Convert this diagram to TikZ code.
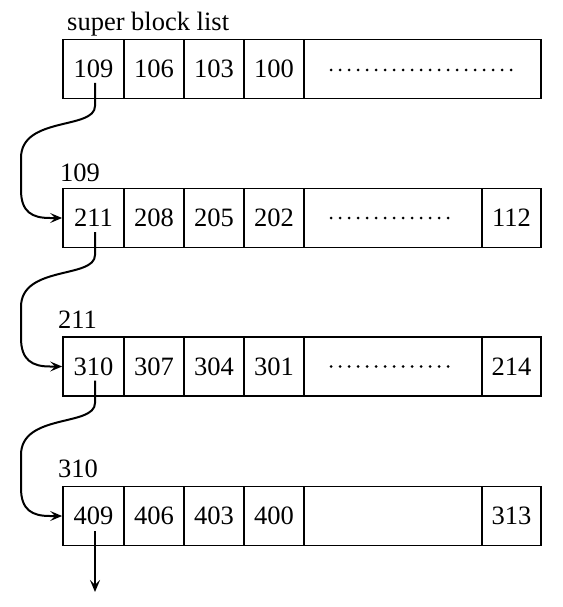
\documentclass[tikz,border=0pt]{standalone}
\usepackage{fontspec}
\setmainfont{Liberation Serif}
\usetikzlibrary{arrows.meta}
\begin{document}
\begin{tikzpicture}[x=1pt,y=1pt,
 cell/.style={draw, line width=1.8pt, rectangle, inner sep=0pt, minimum height=59pt, font=\fontsize{26.5}{30}\selectfont},
 lbl/.style={inner sep=0pt, anchor=base west, font=\fontsize{26.5}{30}\selectfont},
 link/.style={line width=2pt, -{Stealth[length=12pt,width=10pt,inset=5pt]}},
 dots/.style={line width=3pt, line cap=round, dash pattern=on 0pt off 9pt}]
\useasboundingbox (0,0) rectangle (562,-607);
% row 1
\node[cell, minimum width=61pt] (a1) at (93.5,-69) {109};
\node[cell, minimum width=60pt] (a2) at (154,-69) {106};
\node[cell, minimum width=60pt] (a3) at (214,-69) {103};
\node[cell, minimum width=60pt] (a4) at (274,-69) {100};
\node[cell, minimum width=237pt] (a5) at (422.5,-69) {};
\draw[dots] ([xshift=28pt,yshift=-1pt]a5.west) -- ([xshift=-26pt,yshift=-1pt]a5.east);
% row 2
\node[cell, minimum width=61pt] (b1) at (93.5,-218) {211};
\node[cell, minimum width=60pt] (b2) at (154,-218) {208};
\node[cell, minimum width=60pt] (b3) at (214,-218) {205};
\node[cell, minimum width=60pt] (b4) at (274,-218) {202};
\node[cell, minimum width=178pt] (b5) at (393,-218) {};
\node[cell, minimum width=59pt] (b6) at (511.5,-218) {112};
\draw[dots] ([xshift=28pt]b5.west) -- ([xshift=-27pt]b5.east);
% row 3
\node[cell, minimum width=61pt] (c1) at (93.5,-366.5) {310};
\node[cell, minimum width=60pt] (c2) at (154,-366.5) {307};
\node[cell, minimum width=60pt] (c3) at (214,-366.5) {304};
\node[cell, minimum width=60pt] (c4) at (274,-366.5) {301};
\node[cell, minimum width=178pt] (c5) at (393,-366.5) {};
\node[cell, minimum width=59pt] (c6) at (511.5,-366.5) {214};
\draw[dots] ([xshift=28pt]c5.west) -- ([xshift=-27pt]c5.east);
% row 4
\node[cell, minimum width=61pt] (d1) at (93.5,-516) {409};
\node[cell, minimum width=60pt] (d2) at (154,-516) {406};
\node[cell, minimum width=60pt] (d3) at (214,-516) {403};
\node[cell, minimum width=60pt] (d4) at (274,-516) {400};
\node[cell, minimum width=178pt] (d5) at (393,-516) {};
\node[cell, minimum width=59pt] (d6) at (511.5,-516) {313};
% labels
\node[lbl] (title) at (67,-31) {super block list};
\node[lbl] (l1) at (60,-181) {109};
\node[lbl] (l2) at (58,-328) {211};
\node[lbl] (l3) at (58,-477) {310};
% links
\draw[link] ([xshift=1.5pt,yshift=-14pt]a1.center) -- (95,-106)
  .. controls (95,-130) and (21,-116) .. (21,-158) -- (21,-190)
  .. controls (21,-212) and (32,-218) .. (50,-218) -- (b1.west);
\draw[link] ([xshift=1.5pt,yshift=-14pt]b1.center) -- (95,-255)
  .. controls (95,-279) and (21,-265) .. (21,-307) -- (21,-338)
  .. controls (21,-360) and (32,-366.5) .. (50,-366.5) -- (c1.west);
\draw[link] ([xshift=1.5pt,yshift=-14pt]c1.center) -- (95,-403)
  .. controls (95,-427) and (21,-413) .. (21,-455) -- (21,-488)
  .. controls (21,-510) and (32,-516) .. (50,-516) -- (d1.west);
\coordinate (tail) at (95,-592);
\draw[link] ([xshift=1.5pt,yshift=-15pt]d1.center) -- (tail);
\end{tikzpicture}
\end{document}
